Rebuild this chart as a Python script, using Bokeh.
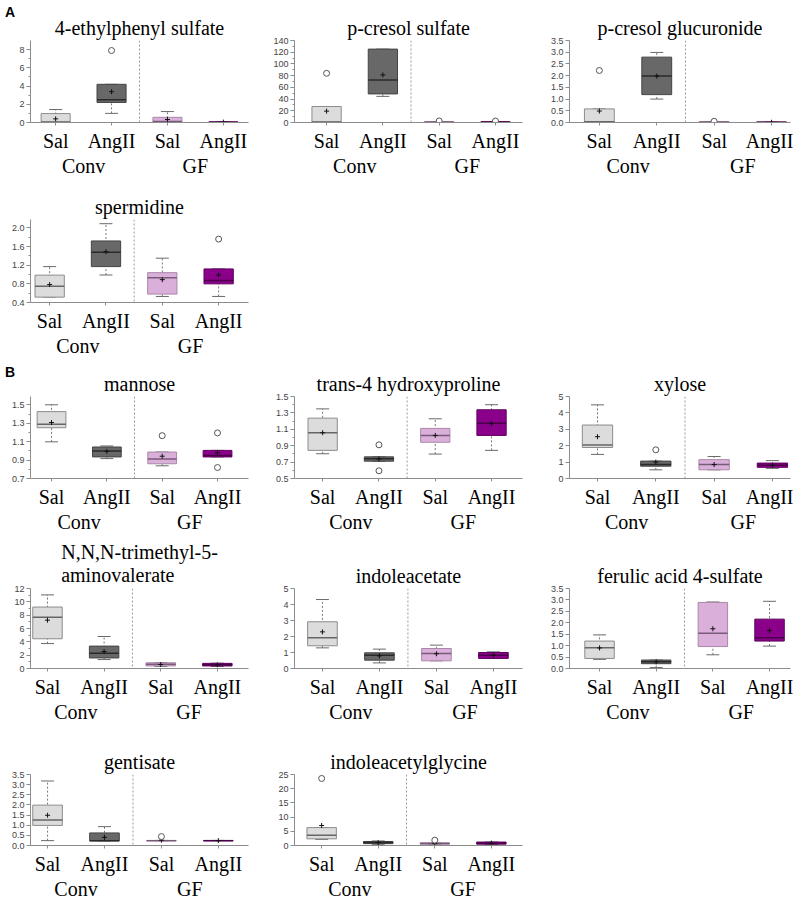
from bokeh.plotting import figure
from bokeh.models import (ColumnDataSource, FixedTicker, Span, Whisker, GridBox, Div,
                          TeeHead, PrintfTickFormatter)
from bokeh.embed import file_html
from bokeh.resources import INLINE

# ---------------- data ----------------
groups = ["Conv", "Conv", "GF", "GF"]
treatments = ["Sal", "AngII", "Sal", "AngII"]
part_letters = ["A", "B"]

# 4-ethylphenyl sulfate
eps_low  = [0.00, 1.00, 0.02, 0.02]
eps_q1   = [0.03, 2.20, 0.05, 0.03]
eps_med  = [0.06, 2.50, 0.10, 0.04]
eps_q3   = [0.98, 4.19, 0.57, 0.06]
eps_high = [1.42, 4.19, 1.20, 0.07]
eps_mean = [0.40, 3.38, 0.33, 0.04]
eps_out_idx = [1]
eps_out_val = [7.9]

# p-cresol sulfate
pcs_low  = [0.0, 44.6, 0.3, 0.3]
pcs_q1   = [0.8, 48.8, 0.6, 0.5]
pcs_med  = [1.0, 72.4, 0.9, 0.7]
pcs_q3   = [27.3, 125.3, 1.2, 1.0]
pcs_high = [27.3, 125.3, 1.4, 1.2]
pcs_mean = [19.4, 81.3, 1.0, 0.8]
pcs_out_idx = [0, 2, 3]
pcs_out_val = [84.0, 2.6, 2.5]

# p-cresol glucuronide
pcg_low  = [0.00, 1.00, 0.00, 0.000]
pcg_q1   = [0.02, 1.19, 0.01, 0.005]
pcg_med  = [0.03, 1.99, 0.02, 0.010]
pcg_q3   = [0.58, 2.79, 0.03, 0.015]
pcg_high = [0.58, 2.99, 0.03, 0.020]
pcg_mean = [0.49, 1.98, 0.02, 0.010]
pcg_out_idx = [0, 2]
pcg_out_val = [2.22, 0.05]

# spermidine
spd_low  = [0.515, 0.99, 0.53, 0.53]
spd_q1   = [0.515, 1.17, 0.58, 0.80]
spd_med  = [0.75, 1.48, 0.93, 0.87]
spd_q3   = [0.987, 1.72, 1.04, 1.12]
spd_high = [1.17, 2.09, 1.35, 1.12]
spd_mean = [0.785, 1.49, 0.89, 0.99]
spd_out_idx = [3]
spd_out_val = [1.76]

# mannose
man_low  = [1.098, 0.916, 0.838, 0.934]
man_q1   = [1.251, 0.934, 0.860, 0.934]
man_med  = [1.288, 0.998, 0.912, 0.950]
man_q3   = [1.426, 1.042, 0.987, 1.005]
man_high = [1.500, 1.053, 0.987, 1.005]
man_mean = [1.307, 0.994, 0.942, 0.979]
man_out_idx = [2, 3, 3]
man_out_val = [1.165, 1.195, 0.819]

# trans-4 hydroxyproline
hyp_low  = [0.802, 0.711, 0.798, 0.843]
hyp_q1   = [0.843, 0.711, 0.942, 1.025]
hyp_med  = [1.058, 0.742, 1.025, 1.175]
hyp_q3   = [1.236, 0.764, 1.111, 1.338]
hyp_high = [1.349, 0.764, 1.228, 1.400]
hyp_mean = [1.058, 0.738, 1.025, 1.168]
hyp_out_idx = [1, 1]
hyp_out_val = [0.911, 0.594]

# xylose
xyl_low  = [1.47, 0.53, 0.53, 0.62]
xyl_q1   = [1.89, 0.75, 0.53, 0.68]
xyl_med  = [2.04, 0.85, 0.85, 0.81]
xyl_q3   = [3.26, 1.06, 1.15, 0.94]
xyl_high = [4.49, 1.06, 1.34, 1.09]
xyl_mean = [2.55, 1.00, 0.85, 0.81]
xyl_out_idx = [1]
xyl_out_val = [1.75]

# N,N,N-trimethyl-5-aminovalerate
tma_low  = [3.74, 1.34, 0.30, 0.30]
tma_q1   = [4.46, 1.58, 0.38, 0.38]
tma_med  = [7.68, 2.30, 0.62, 0.55]
tma_q3   = [9.22, 3.36, 0.86, 0.77]
tma_high = [11.04, 4.80, 0.90, 0.80]
tma_mean = [7.25, 2.54, 0.60, 0.55]
tma_out_idx = []
tma_out_val = []

# indoleacetate
iaa_low  = [1.29, 0.35, 0.48, 0.63]
iaa_q1   = [1.42, 0.52, 0.48, 0.63]
iaa_med  = [1.92, 0.83, 0.94, 0.83]
iaa_q3   = [2.92, 0.98, 1.25, 1.00]
iaa_high = [4.31, 1.21, 1.46, 1.04]
iaa_mean = [2.29, 0.79, 0.92, 0.83]
iaa_out_idx = []
iaa_out_val = []

# ferulic acid 4-sulfate
fas_low  = [0.40, 0.04, 0.60, 0.98]
fas_q1   = [0.44, 0.21, 0.96, 1.20]
fas_med  = [0.91, 0.29, 1.54, 1.34]
fas_q3   = [1.20, 0.37, 2.89, 2.16]
fas_high = [1.47, 0.37, 2.91, 2.94]
fas_mean = [0.90, 0.29, 1.74, 1.66]
fas_out_idx = []
fas_out_val = []

# gentisate
gen_low  = [0.24, 0.23, 0.24, 0.24]
gen_q1   = [0.99, 0.23, 0.24, 0.24]
gen_med  = [1.26, 0.23, 0.24, 0.24]
gen_q3   = [1.99, 0.62, 0.25, 0.25]
gen_high = [3.18, 0.93, 0.25, 0.25]
gen_mean = [1.49, 0.40, 0.26, 0.24]
gen_out_idx = [2]
gen_out_val = [0.44]

# indoleacetylglycine
iag_low  = [2.16, 0.28, 0.40, 0.40]
iag_q1   = [2.35, 0.66, 0.47, 0.47]
iag_med  = [3.57, 1.03, 0.70, 0.80]
iag_q3   = [6.30, 1.41, 0.94, 1.22]
iag_high = [6.30, 1.60, 0.94, 1.22]
iag_mean = [7.05, 1.00, 0.70, 0.85]
iag_out_idx = [0, 2]
iag_out_val = [23.6, 1.88]

# ---------------- styling / layout ----------------
FILL = ["#dcdcdc", "#686868", "#dab0da", "#8b008b"]
EDGE = ["#8c8c8c", "#444444", "#a888a8", "#5e005e"]
MEDC = ["#666666", "#2a2a2a", "#7a5a7a", "#4a004a"]
SERIF = "Liberation Serif"
SANS = "Liberation Sans"
BOX_W = 0.52
xs = list(range(1, len(treatments) + 1))

# (top border, frame height, bottom border) per grid row -- total 903 px
ROWS = [(40, 82, 58), (39, 83, 58), (36, 82, 58), (52, 80, 58), (48, 71, 58)]
# (left border, frame width, right border) per grid column -- total 792 px
COLS = [(30, 218, 22), (23, 228, 9), (38, 221, 3)]


def make_panel(title, low, q1, med, q3, high, mean, out_idx, out_val,
               y_range, ticks, minor, fmt, x_range, r, c):
    bt, fh, bb = ROWS[r]
    bl, fw, br = COLS[c]
    p = figure(width=fw + bl + br, height=fh + bt + bb,
               frame_width=fw, frame_height=fh,
               x_range=x_range, y_range=y_range,
               toolbar_location=None, output_backend="svg",
               min_border_left=bl, min_border_right=br,
               min_border_top=bt, min_border_bottom=bb)
    p.outline_line_color = None
    p.xgrid.visible = False
    p.ygrid.visible = False
    p.background_fill_color = "white"
    p.border_fill_color = "white"

    sep = (xs[1] + xs[2]) / 2
    x0, x1 = x_range

    # title, centred over the Conv/GF divider
    p.title.text = title
    p.title.text_font = SERIF
    p.title.text_font_size = "20px"
    p.title.text_font_style = "normal"
    p.title.text_color = "black"
    p.title.text_line_height = 1.05
    p.title.align = "center"
    p.title.standoff = 4
    p.title.offset = (sep - (x0 + x1) / 2) * fw / (x1 - x0)

    # category labels, with the group name on a second line between its categories
    gnames = list(dict.fromkeys(groups))
    gpos = [sum(x for x, g in zip(xs, groups) if g == gn) / groups.count(gn) for gn in gnames]
    labels = {x: t for x, t in zip(xs, treatments)}
    labels.update({gp: "\n" + gn for gp, gn in zip(gpos, gnames)})
    xa = p.xaxis[0]
    xa.ticker = FixedTicker(ticks=sorted(labels), minor_ticks=xs)
    xa.major_label_overrides = labels
    xa.major_label_text_font = SERIF
    xa.major_label_text_font_size = "20px"
    xa.major_label_text_line_height = 1.15
    xa.major_label_text_color = "black"
    xa.major_label_standoff = 4
    xa.axis_label_standoff = 0
    xa.axis_line_color = "#8c8c8c"
    xa.major_tick_line_color = None
    xa.major_tick_out = 0
    xa.major_tick_in = 0
    xa.minor_tick_line_color = "#8c8c8c"
    xa.minor_tick_out = 3
    xa.minor_tick_in = 0

    ya = p.yaxis[0]
    ya.ticker = FixedTicker(ticks=ticks, minor_ticks=minor)
    ya.formatter = PrintfTickFormatter(format=fmt)
    ya.major_label_text_font = SANS
    ya.major_label_text_font_size = "9px"
    ya.major_label_text_color = "#444444"
    ya.major_label_standoff = 2
    ya.axis_label_standoff = 0
    ya.axis_line_color = "#8c8c8c"
    ya.major_tick_line_color = "#8c8c8c"
    ya.minor_tick_line_color = "#8c8c8c"
    ya.major_tick_out = 4
    ya.major_tick_in = 0
    ya.minor_tick_out = 2
    ya.minor_tick_in = 0

    # separator between Conv and GF
    p.add_layout(Span(location=sep, dimension="height", line_color="#9a9a9a",
                      line_dash="2 2", line_width=1))

    src = ColumnDataSource(dict(
        x=xs, low=low, q1=q1, med=med, q3=q3, high=high, mean=mean,
        x0=[x - BOX_W / 2 for x in xs], x1=[x + BOX_W / 2 for x in xs],
        fill=FILL, edge=EDGE, medc=MEDC))

    p.add_layout(Whisker(source=src, base="x", upper="high", lower="low",
                         line_color="#777777", line_dash="2 2", line_width=1,
                         upper_head=TeeHead(size=13, line_color="#6a6a6a", line_width=1),
                         lower_head=TeeHead(size=13, line_color="#6a6a6a", line_width=1)))
    p.vbar(x="x", width=BOX_W, bottom="q1", top="q3", fill_color="fill",
           line_color="edge", line_width=1, source=src)
    p.segment(x0="x0", y0="med", x1="x1", y1="med", line_color="medc",
              line_width=1.5, source=src)
    p.scatter(x="x", y="mean", marker="cross", size=5, line_color="#111111",
              line_width=1, source=src)
    if out_idx:
        p.scatter(x=[xs[i] for i in out_idx], y=out_val, marker="circle", size=6,
                  fill_color="white", line_color="#555555", line_width=1)
    return p


def dec(a, b, s):
    n = int(round((b - a) / s))
    return [round(a + i * s, 3) for i in range(n + 1)]


p1 = make_panel("4-ethylphenyl sulfate", eps_low, eps_q1, eps_med, eps_q3, eps_high, eps_mean,
                eps_out_idx, eps_out_val, (0, 9), dec(0, 8, 2), dec(1, 7, 2), "%d",
                (0.55, 4.45), 0, 0)
p2 = make_panel("p-cresol sulfate", pcs_low, pcs_q1, pcs_med, pcs_q3, pcs_high, pcs_mean,
                pcs_out_idx, pcs_out_val, (0, 140), dec(0, 140, 20), dec(10, 130, 20), "%d",
                (0.43, 4.48), 0, 1)
p3 = make_panel("p-cresol glucuronide", pcg_low, pcg_q1, pcg_med, pcg_q3, pcg_high, pcg_mean,
                pcg_out_idx, pcg_out_val, (0, 3.5), dec(0, 3.5, 0.5), [], "%.1f",
                (0.48, 4.33), 0, 2)
p4 = make_panel("spermidine", spd_low, spd_q1, spd_med, spd_q3, spd_high, spd_mean,
                spd_out_idx, spd_out_val, (0.4, 2.18), dec(0.4, 2.0, 0.4), dec(0.6, 1.8, 0.4), "%.1f",
                (0.66, 4.53), 1, 0)
p5 = make_panel("mannose", man_low, man_q1, man_med, man_q3, man_high, man_mean,
                man_out_idx, man_out_val, (0.7, 1.59), dec(0.7, 1.5, 0.2), dec(0.8, 1.4, 0.2), "%.1f",
                (0.62, 4.56), 2, 0)
p6 = make_panel("trans-4 hydroxyproline", hyp_low, hyp_q1, hyp_med, hyp_q3, hyp_high, hyp_mean,
                hyp_out_idx, hyp_out_val, (0.5, 1.5), dec(0.5, 1.5, 0.2), dec(0.6, 1.4, 0.2), "%.1f",
                (0.5, 4.55), 2, 1)
p7 = make_panel("xylose", xyl_low, xyl_q1, xyl_med, xyl_q3, xyl_high, xyl_mean,
                xyl_out_idx, xyl_out_val, (0, 5), dec(0, 5, 1), [], "%d",
                (0.52, 4.31), 2, 2)
p8 = make_panel("N,N,N-trimethyl-5-\naminovalerate", tma_low, tma_q1, tma_med, tma_q3, tma_high, tma_mean,
                tma_out_idx, tma_out_val, (0, 12), dec(0, 12, 2), dec(1, 11, 2), "%d",
                (0.7, 4.55), 3, 0)
p9 = make_panel("indoleacetate", iaa_low, iaa_q1, iaa_med, iaa_q3, iaa_high, iaa_mean,
                iaa_out_idx, iaa_out_val, (0, 5), dec(0, 5, 1), [], "%d",
                (0.51, 4.51), 3, 1)
p10 = make_panel("ferulic acid 4-sulfate", fas_low, fas_q1, fas_med, fas_q3, fas_high, fas_mean,
                 fas_out_idx, fas_out_val, (0, 3.5), dec(0, 3.5, 0.5), [], "%.1f",
                 (0.47, 4.37), 3, 2)
p11 = make_panel("gentisate", gen_low, gen_q1, gen_med, gen_q3, gen_high, gen_mean,
                 gen_out_idx, gen_out_val, (0, 3.5), dec(0, 3.5, 0.5), [], "%.1f",
                 (0.7, 4.53), 4, 0)
p12 = make_panel("indoleacetylglycine", iag_low, iag_q1, iag_med, iag_q3, iag_high, iag_mean,
                 iag_out_idx, iag_out_val, (0, 25), dec(0, 25, 5), [], "%d",
                 (0.52, 4.55), 4, 1)

letter_style = {"font-family": "Liberation Sans, sans-serif", "font-size": "14px",
                "font-weight": "bold", "color": "black", "line-height": "14px"}
div_a = Div(text=part_letters[0], width=14, height=16, styles=letter_style)
div_b = Div(text=part_letters[1], width=14, height=16, styles=letter_style)

grid = GridBox(children=[
    (p1, 0, 0), (p2, 0, 1), (p3, 0, 2),
    (p4, 1, 0),
    (p5, 2, 0), (p6, 2, 1), (p7, 2, 2),
    (p8, 3, 0), (p9, 3, 1), (p10, 3, 2),
    (p11, 4, 0), (p12, 4, 1),
    (div_a, 0, 0), (div_b, 2, 0),
], spacing=0)

open("out.html", "w").write(file_html(grid, INLINE))
